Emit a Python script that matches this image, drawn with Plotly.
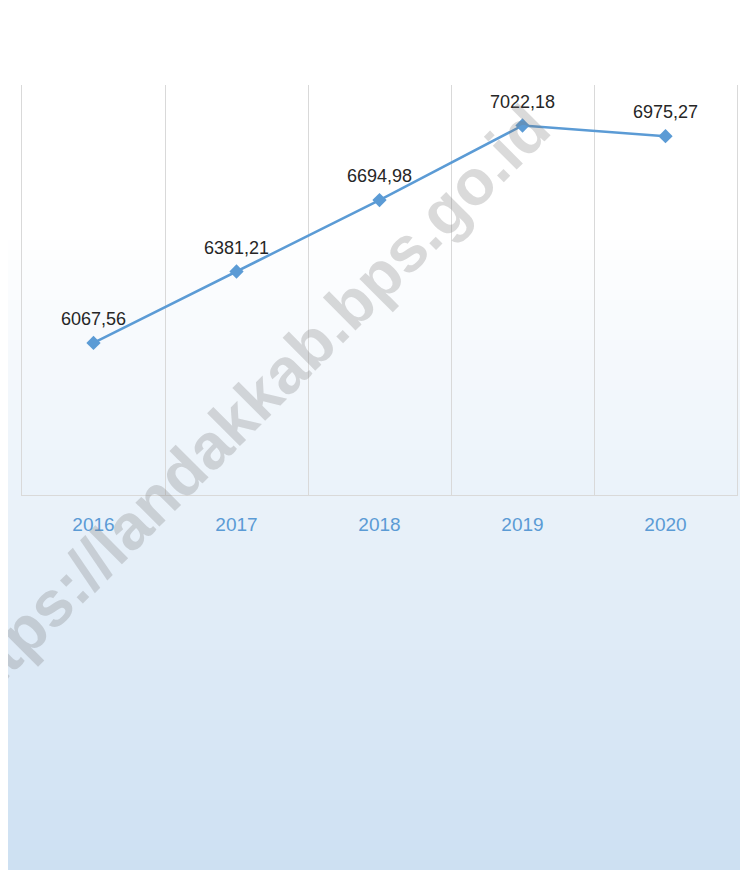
import plotly.graph_objects as go

years = ['2016', '2017', '2018', '2019', '2020']
values = [6067.56, 6381.21, 6694.98, 7022.18, 6975.27]

# figure sits 8px in from the page's top-left corner
W, H = 740, 862
L, R, T, B = 14, 11, 77, 375
pw, ph = W - L - R, H - T - B

def px_x(p):
    return (p - L) / pw

def px_y(p):
    return (H - B - p) / ph

fig = go.Figure()

fig.add_trace(go.Scatter(
    x=list(range(len(years))), y=values, mode='lines+markers',
    line=dict(color='#5b9bd5', width=2.5),
    marker=dict(symbol='diamond', size=11, color='#5b9bd5'),
    hoverinfo='skip', showlegend=False,
))

# background gradient (white -> light blue), drawn as thin strips
shapes = []
top, bottom, n = 222, H, 64
c0, c1 = (255, 255, 255), (205, 224, 242)
for i in range(n):
    y0 = top + (bottom - top) * i / n
    y1 = top + (bottom - top) * (i + 1) / n + 1
    t = (i + 0.5) / n
    col = tuple(round(a + (b - a) * t) for a, b in zip(c0, c1))
    shapes.append(dict(type='rect', xref='paper', yref='paper', layer='below',
                       x0=px_x(0), x1=px_x(W + 2), y0=px_y(y1), y1=px_y(y0),
                       line=dict(width=0), fillcolor='rgb(%d,%d,%d)' % col))

annotations = []
for i, v in enumerate(values):
    annotations.append(dict(
        x=i, y=v, yshift=24, showarrow=False,
        text=('%.2f' % v).replace('.', ','),
        font=dict(family='Liberation Sans', size=18, color='#262626'),
    ))

# watermark
annotations.append(dict(
    xref='paper', yref='paper', x=px_x(237), y=px_y(402),
    xanchor='center', yanchor='middle', showarrow=False,
    text='https://landakkab.bps.go.id', textangle=-45,
    font=dict(family='Liberation Sans', size=64, weight='bold',
              color='rgba(120,120,120,0.27)'),
))

fig.update_layout(
    width=W, height=H,
    margin=dict(l=L, r=R, t=T, b=B),
    paper_bgcolor='white', plot_bgcolor='rgba(0,0,0,0)',
    shapes=shapes, annotations=annotations,
    xaxis=dict(range=[-0.5, 4.5], tickvals=list(range(len(years))), ticktext=years,
               showgrid=False, zeroline=False, showline=True, linecolor='#d9d9d9',
               ticks='', ticklabelstandoff=12,
               tickfont=dict(family='Liberation Sans', size=19, color='#5b9bd5'),
               minor=dict(tickvals=[0.5, 1.5, 2.5, 3.5], showgrid=True,
                          gridcolor='#d9d9d9', gridwidth=1, ticks='')),
    yaxis=dict(range=[5400, 7200], showgrid=False, zeroline=False,
               showticklabels=False, showline=True, mirror=True, linecolor='#d9d9d9'),
)

fig.write_html("out.html")
